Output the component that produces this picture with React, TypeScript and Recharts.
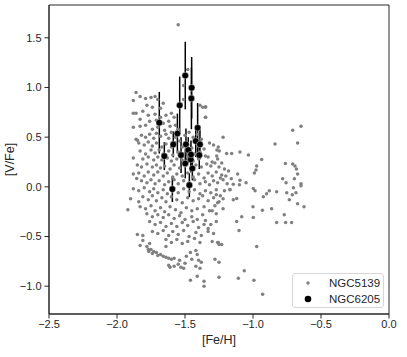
import { ScatterChart, Scatter, XAxis, YAxis, ErrorBar, ReferenceArea } from 'recharts'

// NGC5139 stars: [Fe/H], [V/Fe]
const ngc5139: [number, number][] = [
  // top left
  [-1.86, 0.95], [-1.83, 0.91], [-1.88, 0.87], [-1.79, 0.89], [-1.75, 0.90], [-1.72, 0.91], [-1.70, 0.88],
  [-1.66, 0.84], [-1.78, 0.82], [-1.74, 0.80], [-1.68, 0.79], [-1.88, 0.74], [-1.86, 0.74], [-1.81, 0.76],
  [-1.77, 0.72], [-1.72, 0.73], [-1.68, 0.70], [-1.64, 0.72], [-1.60, 0.74], [-1.83, 0.68], [-1.76, 0.66],
  [-1.71, 0.67], [-1.66, 0.64], [-1.62, 0.66], [-1.58, 0.70], [-1.88, 0.60], [-1.83, 0.61], [-1.79, 0.62],
  [-1.74, 0.58], [-1.70, 0.60], [-1.65, 0.57], [-1.61, 0.61], [-1.57, 0.62], [-1.55, 0.58],
  [-1.48, 1.18], [-1.51, 1.02], [-1.51, 0.88], [-1.39, 0.82], [-1.37, 0.80], [-1.35, 0.80], [-1.35, 0.70],
  [-1.55, 1.63],
  // dense band 0.25 .. 0.55
  [-1.86, 0.48], [-1.85, 0.47], [-1.82, 0.52], [-1.79, 0.50], [-1.76, 0.53], [-1.73, 0.49], [-1.71, 0.54],
  [-1.68, 0.51], [-1.64, 0.53], [-1.62, 0.49], [-1.60, 0.55], [-1.57, 0.50], [-1.54, 0.46], [-1.50, 0.52],
  [-1.47, 0.55], [-1.44, 0.50], [-1.41, 0.53], [-1.38, 0.48],
  [-1.84, 0.44], [-1.80, 0.42], [-1.77, 0.45], [-1.74, 0.41], [-1.71, 0.44], [-1.67, 0.40], [-1.64, 0.43],
  [-1.60, 0.40], [-1.57, 0.44], [-1.52, 0.40], [-1.48, 0.42], [-1.45, 0.39], [-1.40, 0.41], [-1.36, 0.38],
  [-1.83, 0.36], [-1.79, 0.33], [-1.75, 0.37], [-1.72, 0.34], [-1.69, 0.37], [-1.66, 0.33], [-1.62, 0.36],
  [-1.59, 0.32], [-1.55, 0.35], [-1.51, 0.33], [-1.47, 0.36], [-1.43, 0.33], [-1.39, 0.35], [-1.35, 0.31],
  [-1.88, 0.29], [-1.81, 0.28], [-1.77, 0.30], [-1.73, 0.27], [-1.70, 0.30], [-1.67, 0.27], [-1.63, 0.29],
  [-1.60, 0.26], [-1.56, 0.28], [-1.52, 0.27], [-1.48, 0.30], [-1.44, 0.26], [-1.40, 0.28],
  // 0.0 .. 0.25
  [-1.85, 0.22], [-1.82, 0.20], [-1.78, 0.23], [-1.74, 0.20], [-1.71, 0.22], [-1.68, 0.19], [-1.65, 0.21],
  [-1.61, 0.18], [-1.58, 0.22], [-1.54, 0.19], [-1.50, 0.21], [-1.46, 0.18], [-1.42, 0.22], [-1.38, 0.20],
  [-1.34, 0.23], [-1.31, 0.21], [-1.28, 0.24], [-1.25, 0.20],
  [-1.88, 0.13], [-1.84, 0.14], [-1.80, 0.11], [-1.77, 0.15], [-1.73, 0.12], [-1.70, 0.15], [-1.66, 0.11],
  [-1.63, 0.14], [-1.59, 0.10], [-1.56, 0.13], [-1.52, 0.11], [-1.48, 0.14], [-1.44, 0.10], [-1.40, 0.13],
  [-1.36, 0.09], [-1.33, 0.14], [-1.30, 0.11], [-1.27, 0.15], [-1.23, 0.12],
  [-1.855, 0.085], [-1.82, 0.06], [-1.78, 0.04], [-1.75, 0.07], [-1.72, 0.03], [-1.69, 0.06], [-1.65, 0.02],
  [-1.62, 0.05], [-1.58, 0.07], [-1.55, 0.03], [-1.51, 0.06], [-1.47, 0.04], [-1.43, 0.07], [-1.39, 0.03],
  [-1.35, 0.05], [-1.32, 0.02], [-1.29, 0.06], [-1.26, 0.04], [-1.22, 0.07], [-1.19, 0.03],
  // -0.3 .. 0.0
  [-1.88, -0.02], [-1.84, -0.04], [-1.80, -0.01], [-1.76, -0.05], [-1.73, -0.02], [-1.70, -0.06], [-1.66, -0.03],
  [-1.63, -0.07], [-1.59, -0.04], [-1.55, -0.06], [-1.51, -0.02], [-1.47, -0.05], [-1.43, -0.03], [-1.39, -0.07],
  [-1.35, -0.04], [-1.31, -0.06], [-1.27, -0.03],
  [-1.90, -0.12], [-1.84, -0.15], [-1.81, -0.10], [-1.77, -0.13], [-1.74, -0.09], [-1.71, -0.14], [-1.67, -0.11],
  [-1.64, -0.15], [-1.60, -0.10], [-1.56, -0.13], [-1.52, -0.16], [-1.48, -0.11], [-1.44, -0.14], [-1.40, -0.12],
  [-1.37, -0.09], [-1.33, -0.14], [-1.29, -0.11], [-1.25, -0.15],
  [-1.92, -0.23], [-1.83, -0.20], [-1.79, -0.22], [-1.75, -0.19], [-1.72, -0.24], [-1.68, -0.21], [-1.65, -0.25],
  [-1.61, -0.20], [-1.57, -0.23], [-1.53, -0.26], [-1.49, -0.21], [-1.45, -0.24], [-1.41, -0.22], [-1.36, -0.20],
  [-1.32, -0.24], [-1.28, -0.19],
  // -0.6 .. -0.3
  [-1.78, -0.27], [-1.74, -0.30], [-1.70, -0.28], [-1.66, -0.31], [-1.62, -0.28], [-1.58, -0.32], [-1.54, -0.29],
  [-1.50, -0.33], [-1.45, -0.30], [-1.41, -0.33], [-1.37, -0.28],
  [-1.76, -0.35], [-1.72, -0.38], [-1.68, -0.36], [-1.64, -0.40], [-1.60, -0.37], [-1.56, -0.40], [-1.52, -0.36],
  [-1.48, -0.39], [-1.44, -0.35], [-1.40, -0.41], [-1.36, -0.38],
  [-1.85, -0.48], [-1.81, -0.49], [-1.74, -0.45], [-1.70, -0.47], [-1.66, -0.44], [-1.62, -0.49], [-1.59, -0.45],
  [-1.55, -0.48], [-1.51, -0.44], [-1.47, -0.50], [-1.42, -0.46], [-1.38, -0.49], [-1.33, -0.45],
  [-1.81, -0.54], [-1.76, -0.57], [-1.64, -0.53], [-1.60, -0.56], [-1.56, -0.53], [-1.52, -0.57], [-1.48, -0.55],
  [-1.43, -0.52], [-1.39, -0.56], [-1.30, -0.55], [-1.26, -0.56], [-1.25, -0.58],
  // lower arc and tail
  [-1.83, -0.59], [-1.78, -0.60], [-1.77, -0.63], [-1.766, -0.65], [-1.75, -0.63], [-1.74, -0.67], [-1.73, -0.65],
  [-1.71, -0.66], [-1.70, -0.69], [-1.68, -0.68], [-1.66, -0.70], [-1.64, -0.71], [-1.62, -0.72], [-1.60, -0.73],
  [-1.58, -0.72], [-1.64, -0.60],
  [-1.62, -0.79], [-1.61, -0.81], [-1.58, -0.80], [-1.55, -0.78], [-1.53, -0.81], [-1.51, -0.82], [-1.50, -0.77],
  [-1.54, -0.74], [-1.49, -0.70], [-1.46, -0.66], [-1.42, -0.64], [-1.41, -0.68], [-1.40, -0.74], [-1.38, -0.76],
  [-1.45, -0.73], [-1.42, -0.80], [-1.39, -0.82],
  [-1.46, -0.94], [-1.41, -0.90], [-1.36, -0.95], [-1.36, -1.00], [-1.25, -0.91], [-1.25, -0.76], [-1.28, -0.73],
  // middle
  [-1.348, 0.805], [-1.348, 0.70], [-1.22, 0.50], [-1.32, 0.44], [-1.255, 0.40], [-1.29, 0.42], [-1.265, 0.37],
  [-1.33, 0.30], [-1.30, 0.25], [-1.26, 0.28], [-1.23, 0.24], [-1.21, 0.18], [-1.18, 0.16], [-1.24, 0.09],
  [-1.20, 0.11], [-1.16, 0.08], [-1.27, -0.08], [-1.24, -0.09], [-1.21, -0.04], [-1.17, -0.03], [-1.26, -0.16],
  [-1.22, -0.12], [-1.30, -0.24], [-1.27, -0.27], [-1.22, -0.22], [-1.35, -0.34], [-1.31, -0.38], [-1.27, -0.35],
  [-1.33, -0.42], [-1.29, -0.47], [-1.255, -0.56], [-1.23, -0.58],
  // right side
  [-0.647, 0.61], [-0.708, 0.57], [-0.838, 0.43], [-0.672, 0.44], [-0.762, 0.235], [-0.708, 0.23], [-0.691, 0.21],
  [-0.681, 0.18], [-0.672, 0.13], [-0.696, 0.08], [-0.782, 0.08], [-0.757, 0.04], [-0.647, 0.03], [-0.647, 0.01],
  [-0.703, -0.01], [-0.752, -0.06], [-0.684, -0.06], [-0.711, -0.08], [-0.672, -0.17], [-0.625, -0.20],
  [-0.826, -0.05], [-0.863, -0.22], [-0.770, -0.28], [-0.826, -0.36], [-0.760, -0.36], [-0.716, -0.36],
  [-0.733, -0.13], [-0.936, 0.275], [-0.973, 0.21], [-0.978, 0.17], [-0.990, 0.14], [-1.034, 0.32], [-1.096, 0.35],
  [-1.157, 0.335], [-1.194, 0.335], [-1.248, 0.36], [-1.267, 0.31], [-1.051, 0.04], [-1.100, 0.02], [-1.145, 0.027],
  [-1.169, -0.027], [-1.113, 0.13], [-1.096, 0.067], [-1.120, -0.117], [-1.145, -0.13], [-0.998, -0.017],
  [-0.985, -0.04], [-0.900, -0.07], [-0.924, -0.10], [-0.880, -0.04], [-0.931, -0.235], [-1.00, -0.20],
  [-0.998, -0.31], [-1.083, -0.30], [-1.120, -0.35], [-1.103, -0.44], [-0.973, -0.60], [-1.064, -0.845],
  [-1.108, -0.92], [-0.993, -0.94], [-0.929, -1.08],
]

// NGC6205 stars: [Fe/H], [V/Fe], error
const ngc6205: [number, number, number][] = [
  [-1.689, 0.645, 0.31], [-1.652, 0.309, 0.14], [-1.586, 0.427, 0.13], [-1.593, -0.023, 0.13],
  [-1.539, 0.82, 0.29], [-1.556, 0.537, 0.2], [-1.529, 0.319, 0.18], [-1.498, 1.12, 0.34],
  [-1.493, 0.427, 0.16], [-1.498, 0.235, 0.15], [-1.476, 0.37, 0.13], [-1.451, 0.997, 0.31],
  [-1.453, 0.89, 0.31], [-1.458, 0.275, 0.13], [-1.456, 0.325, 0.14], [-1.446, 0.185, 0.12],
  [-1.468, 0.017, 0.12], [-1.421, 0.46, 0.16], [-1.407, 0.594, 0.25], [-1.39, 0.427, 0.15],
  [-1.395, 0.319, 0.14],
]

const xTicks = [-2.5, -2.0, -1.5, -1.0, -0.5, 0.0]
const yTicks = [-1.0, -0.5, 0.0, 0.5, 1.0, 1.5]

const gray = '#808080'
const ink = '#262626'
const font = '"Liberation Sans", Arial, sans-serif'

const fmt = (v: number) => v.toFixed(1).replace('-', '\u2212')

const grayData = ngc5139.map(([x, y]) => ({ x, y }))
const blackData = ngc6205.map(([x, y, err]) => ({ x, y, err }))

const GrayDot = (p: any) => <circle cx={p.cx} cy={p.cy} r={1.75} fill={gray} />
const BlackDot = (p: any) => <circle cx={p.cx} cy={p.cy} r={3.3} fill="#000" stroke="#fff" strokeWidth={0.4} />

export default function App() {
  return (
    <div style={{ position: 'absolute', left: 0, top: 0, width: 407, height: 357, fontFamily: font }}>
      <ScatterChart width={407} height={357} margin={{ top: 5, right: 18, bottom: 0, left: 0 }}>
        <XAxis
          type="number"
          dataKey="x"
          domain={[-2.5, 0]}
          ticks={xTicks}
          tickFormatter={fmt}
          allowDataOverflow
          height={43}
          stroke={ink}
          tickSize={4.5}
          tickMargin={2}
          tick={{ fill: ink, fontSize: 11, fontFamily: font }}
          label={{ value: '[Fe/H]', position: 'insideBottom', offset: 13, fill: ink, fontSize: 12.5, fontFamily: font }}
        />
        <YAxis
          type="number"
          dataKey="y"
          domain={[-1.28, 1.83]}
          ticks={yTicks}
          tickFormatter={fmt}
          allowDataOverflow
          width={49}
          stroke={ink}
          tickSize={4.5}
          tickMargin={3}
          tick={{ fill: ink, fontSize: 11, fontFamily: font }}
          label={{
            value: '[V/Fe]', angle: -90, position: 'insideLeft', offset: 10,
            fill: ink, fontSize: 12.5, fontFamily: font, style: { textAnchor: 'middle' },
          }}
        />
        <ReferenceArea x1={-2.5} x2={0} y1={-1.28} y2={1.83} fill="none" stroke={ink} strokeWidth={1} />
        <Scatter name="NGC5139" data={grayData} fill={gray} shape={GrayDot} isAnimationActive={false} />
        <Scatter name="NGC6205" data={blackData} fill="#000" shape={BlackDot} isAnimationActive={false}>
          <ErrorBar dataKey="err" direction="y" width={0} stroke="#000" strokeWidth={1.5} />
        </Scatter>
      </ScatterChart>
      <div
        style={{
          position: 'absolute', left: 292, top: 273, width: 92, height: 35, boxSizing: 'border-box',
          border: '1px solid #d6d6d6', borderRadius: 3, background: 'rgba(255,255,255,0.8)',
          fontSize: 11.5, color: ink,
        }}
      >
        <svg width={30} height={35} style={{ position: 'absolute', left: 0, top: 0 }}>
          <circle cx={15} cy={9} r={1.75} fill={gray} />
          <circle cx={15} cy={25} r={3.3} fill="#000" />
        </svg>
        <div style={{ position: 'absolute', left: 36, top: 1, lineHeight: '16px' }}>NGC5139</div>
        <div style={{ position: 'absolute', left: 36, top: 17, lineHeight: '16px' }}>NGC6205</div>
      </div>
    </div>
  )
}
